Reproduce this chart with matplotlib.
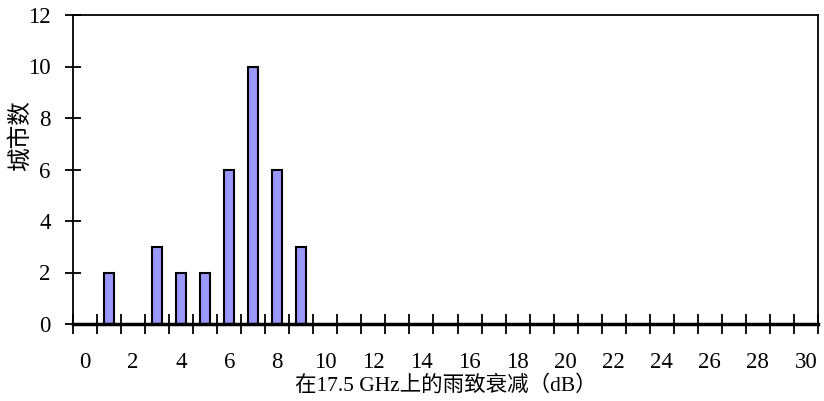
import matplotlib.pyplot as plt
import numpy as np

# 雨致衰减分布（每 1 dB 一个区间）
atten_db = [1, 3, 4, 5, 6, 7, 8, 9]
city_count = [2, 3, 2, 2, 6, 10, 6, 3]
x_labels = [str(v) for v in range(0, 31, 2)]
y_ticks = [0, 2, 4, 6, 8, 10, 12]

plt.rcParams['font.family'] = ['Liberation Serif', 'Noto Sans CJK SC']
plt.rcParams['font.size'] = 16.5

fig = plt.figure(figsize=(8.24, 4.01), dpi=100)
ax = fig.add_axes([73/824, 1-324/401, (818-73)/824, (324-15)/401])

ax.bar(atten_db, city_count, width=0.42, color='#9999FF',
       edgecolor='black', linewidth=1.5, zorder=3)

ax.set_xlim(-0.5, 30.5)
ax.set_ylim(0, 12)

# 刻度线在类别之间，标签在类别中心
ax.set_xticks(np.arange(-0.5, 31, 1))
ax.set_xticklabels([])
ax.set_xticks(np.arange(0, 31, 2), minor=True)
ax.set_xticklabels(x_labels, minor=True)
ax.tick_params(axis='x', which='major', direction='inout', length=14, width=1.3)
ax.tick_params(axis='x', which='minor', length=0, pad=20)

ax.set_yticks(y_ticks)
ax.tick_params(axis='y', direction='inout', length=12, width=1.3, pad=10)

for side in ['top', 'right', 'left']:
    ax.spines[side].set_linewidth(1.3)
ax.spines['bottom'].set_linewidth(2.5)
ax.spines['bottom'].set_zorder(4)

ax.set_xlabel('在17.5 GHz上的雨致衰减（dB）', fontsize=15.5)
ax.xaxis.set_label_coords(0.50, -0.165)
ax.set_ylabel('城市数', fontsize=17)
ax.yaxis.set_label_coords(-0.056, 0.61)

fig.savefig('out.png', dpi=100)
